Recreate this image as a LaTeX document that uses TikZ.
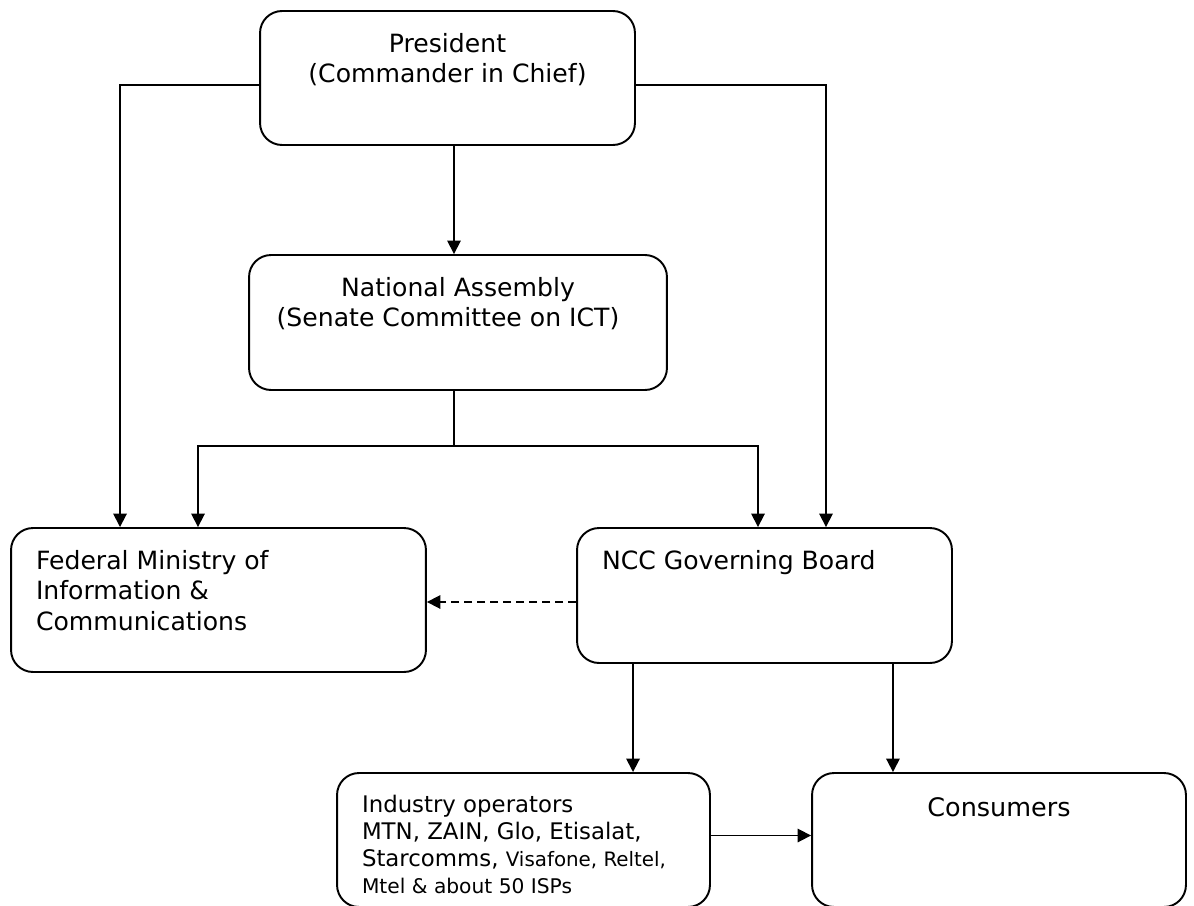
\documentclass[tikz,border=0pt]{standalone}
\usepackage{fontspec}
\setmainfont{DejaVu Sans}
\usepackage{tikz}
\usetikzlibrary{arrows.meta}

\newcommand{\inbox}[3]{\parbox[c][#2][t]{#1}{#3}}
\newcommand{\firstline}[1]{\rule{0pt}{#1}}

\tikzset{
	unit/.style={draw, line width=1.1pt, rounded corners=0.44cm, inner sep=0pt,
		font=\fontsize{14.3}{17.4}\selectfont},
	flow/.style={line width=1pt, -{Triangle[length=0.27cm,width=0.27cm]}},
}

\begin{document}
\begin{tikzpicture}[x=0.02cm, y=-0.02cm]
		\clip (0,0) rectangle (1194,906);
		\node[unit] (pres) at (447.5,78) {\inbox{7.5cm}{2.68cm}{\centering\firstline{0.82cm}President\\(Commander in Chief)}};
		\node[unit] (na) at (458,322.5) {\inbox{8.36cm}{2.7cm}{\centering\firstline{0.82cm}National Assembly\\\hspace*{-0.4cm}(Senate Committee on ICT)}};
		\node[unit] (fmic) at (218.5,600) {\inbox{8.3cm}{2.88cm}{\raggedright\leftskip=0.5cm\firstline{0.82cm}Federal Ministry of\\Information \&\\Communications}};
		\node[unit] (ncc) at (764.5,595.5) {\inbox{7.5cm}{2.7cm}{\raggedright\leftskip=0.5cm\firstline{0.82cm}NCC Governing Board}};
		\node[unit] (ind) at (523.5,840) {\inbox{7.46cm}{2.68cm}{\fontsize{13}{15.5}\selectfont\raggedright\leftskip=0.5cm\firstline{0.78cm}Industry operators\\MTN, ZAIN, Glo, Etisalat,\\Starcomms, {\fontsize{11.3}{12}\selectfont Visafone, Reltel,}\\{\fontsize{11.5}{13}\selectfont Mtel \& about 50 ISPs}}};
		\node[unit] (cons) at (999,840) {\inbox{7.48cm}{2.68cm}{\centering\fontsize{14.5}{17.4}\selectfont\firstline{0.86cm}Consumers}};
		%
		\coordinate (mid) at (454,0);
		\draw[flow] (pres.south -| mid) -- (na.north -| mid);
		\draw[flow] ([yshift=-0.14cm]pres.west) -| ([xshift=-1.97cm]fmic.north);
		\draw[flow] ([yshift=-0.14cm]pres.east) -| ([xshift=1.23cm]ncc.north);
		\draw[flow] (na.south -| mid) -- ++(0,55) -| ([xshift=-0.41cm]fmic.north);
		\draw[flow] (na.south -| mid) -- ++(0,55) -| ([xshift=-0.13cm]ncc.north);
		\draw[flow, dash pattern=on 0.16cm off 0.1cm] ([yshift=-0.13cm]ncc.west) -- ([yshift=-0.13cm]ncc.west -| fmic.east);
		\draw[flow] ([xshift=-2.63cm]ncc.south) -- ([xshift=-2.63cm]ncc.south |- ind.north);
		\draw[flow] ([xshift=2.57cm]ncc.south) -- ([xshift=2.57cm]ncc.south |- cons.north);
		\draw[flow] ([yshift=0.09cm]ind.east) -- ([yshift=0.09cm]ind.east -| cons.west);
\end{tikzpicture}
\end{document}
